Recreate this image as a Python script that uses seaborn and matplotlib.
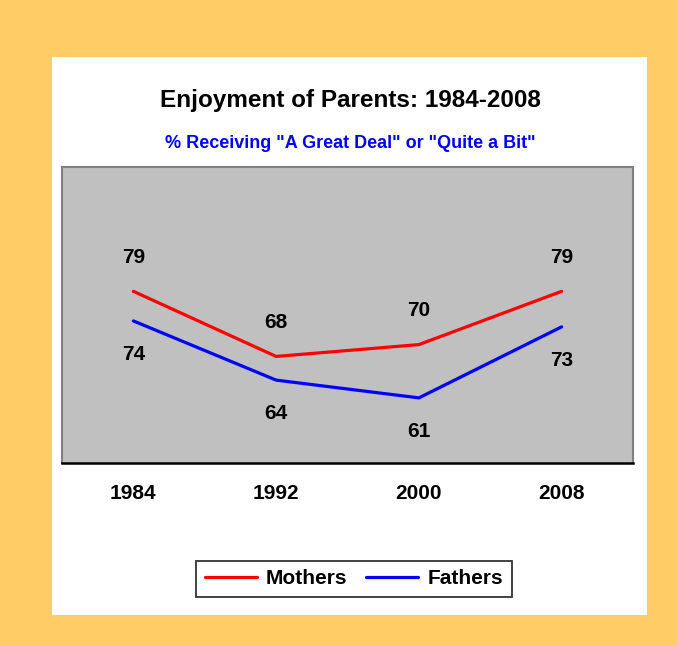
import pandas as pd
import seaborn as sns
import matplotlib.pyplot as plt
from matplotlib.patches import Rectangle

# values
years = ["1984", "1992", "2000", "2008"]
mothers = [79, 68, 70, 79]
fathers = [74, 64, 61, 73]

df = pd.DataFrame({
    "year": years * 2,
    "pct": mothers + fathers,
    "who": ["Mothers"] * 4 + ["Fathers"] * 4,
})

sns.set_theme(style="white")
plt.rcParams["font.family"] = ["Liberation Sans", "DejaVu Sans"]
plt.rcParams["font.weight"] = "bold"
plt.rcParams["text.color"] = "black"
plt.rcParams["xtick.color"] = "black"

fig = plt.figure(figsize=(6.77, 6.46), dpi=100, facecolor="#FFCC66")
# white panel
fig.patches.append(Rectangle((52 / 677, 1 - 615 / 646), 595 / 677, 558 / 646,
                             transform=fig.transFigure, facecolor="white",
                             edgecolor="none", zorder=-5))

ax = fig.add_axes([62 / 677, 1 - 463 / 646, 571 / 677, 296 / 646])
ax.set_zorder(2)
ax.set_facecolor("#C0C0C0")

sns.lineplot(data=df, x="year", y="pct", hue="who",
             palette={"Mothers": "#FF0000", "Fathers": "#0000FF"},
             linewidth=2.3, legend=False, ax=ax)

ax.set_xlim(-0.5, 3.5)
ax.set_ylim(50, 100)

# data labels: mothers above, fathers below
for i, v in enumerate(mothers):
    ax.annotate(str(v), (i, v), xytext=(0, 24.5), textcoords="offset points",
                ha="center", va="center", fontsize=15, fontweight="bold")
for i, v in enumerate(fathers):
    ax.annotate(str(v), (i, v), xytext=(0, -24), textcoords="offset points",
                ha="center", va="center", fontsize=15, fontweight="bold")

ax.set_yticks([])
ax.set_xlabel("")
ax.set_ylabel("")
ax.tick_params(axis="x", length=0, pad=15, labelsize=15)
for lab in ax.get_xticklabels():
    lab.set_fontweight("bold")

for s in ["left", "top", "right"]:
    ax.spines[s].set_color("#808080")
    ax.spines[s].set_linewidth(1.5)
ax.spines["bottom"].set_color("black")
ax.spines["bottom"].set_linewidth(1.8)

fig.text(350 / 677, 1 - 101 / 646, "Enjoyment of Parents: 1984-2008",
         ha="center", va="center", fontsize=17.5, fontweight="bold")
fig.text(350 / 677, 1 - 143 / 646, '% Receiving "A Great Deal" or "Quite a Bit"',
         ha="center", va="center", fontsize=13, fontweight="bold", color="#0000FF")

handles = [plt.Line2D([], [], color="#FF0000", lw=2.3),
           plt.Line2D([], [], color="#0000FF", lw=2.3)]
leg = fig.legend(handles, ["Mothers", "Fathers"], ncol=2,
                 loc="center", bbox_to_anchor=(354 / 677, 1 - 579 / 646),
                 frameon=True, fancybox=False, edgecolor="black",
                 prop={"weight": "bold", "size": 15},
                 handlelength=2.5, columnspacing=0.9, handletextpad=0.45,
                 borderpad=0.4)
leg.get_frame().set_linewidth(1.3)
for t in leg.get_texts():
    t.set_color("black")

fig.savefig("out.png", dpi=100, facecolor=fig.get_facecolor())
